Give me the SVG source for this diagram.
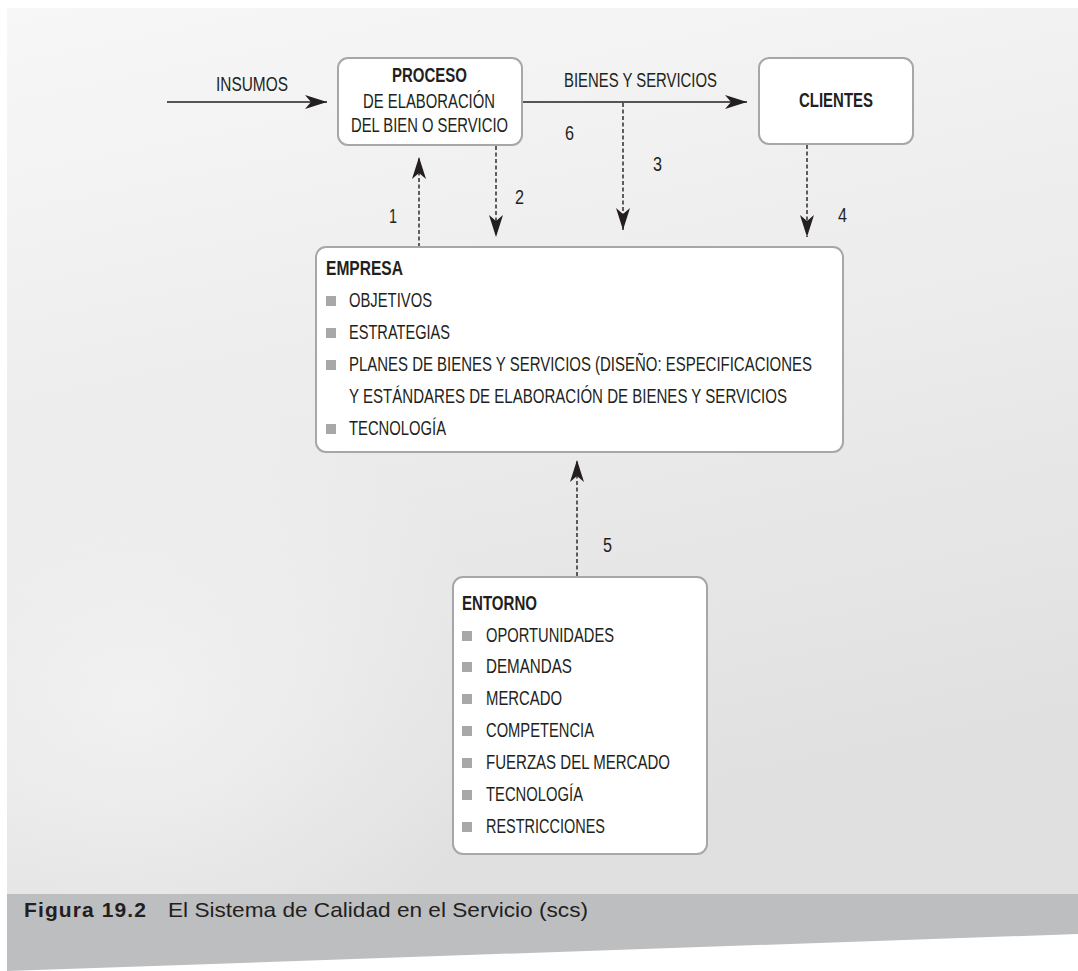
<svg xmlns="http://www.w3.org/2000/svg" width="1078" height="971" viewBox="0 0 1078 971">
<defs>
<linearGradient id="bg" x1="0" y1="0" x2="0.25" y2="1">
<stop offset="0" stop-color="#f7f7f7"/>
<stop offset="0.5" stop-color="#ececec"/>
<stop offset="1" stop-color="#e0e0e0"/>
</linearGradient>
<radialGradient id="glow" cx="0.12" cy="0.78" r="0.35">
<stop offset="0" stop-color="#f4f4f4" stop-opacity="0.8"/>
<stop offset="1" stop-color="#f4f4f4" stop-opacity="0"/>
</radialGradient>
<marker id="ah" markerUnits="userSpaceOnUse" markerWidth="24" markerHeight="14" refX="22" refY="7" orient="auto" viewBox="0 0 24 14">
<path d="M0,0 L22,7 L0,14 L6,7 Z" fill="#231f20"/>
</marker>
</defs>
<style>
.box{fill:#ffffff;stroke:#a6a7a9;stroke-width:2}
.t{font-family:"Liberation Sans",Arial,sans-serif;font-size:20px;fill:#231f20}
.b{font-weight:bold}
.bul{fill:#a7a8aa}
.solid{stroke:#231f20;stroke-width:1.5;fill:none}
.dash{stroke:#231f20;stroke-width:1.4;stroke-dasharray:4 2.5;fill:none}
.cap{font-family:"Liberation Sans",Arial,sans-serif;font-size:21px;fill:#231f20}
</style>
<rect x="0" y="0" width="1078" height="971" fill="#ffffff"/>
<rect x="7" y="8" width="1071" height="886" fill="url(#bg)"/>
<rect x="7" y="8" width="1071" height="886" fill="url(#glow)"/>
<polygon points="7,894 1078,894 1078,934 7,971" fill="#bdbec0"/>
<text class="cap b" x="24" y="917" textLength="122" lengthAdjust="spacing">Figura 19.2</text>
<text class="cap" x="168" y="917" textLength="420" lengthAdjust="spacingAndGlyphs">El Sistema de Calidad en el Servicio (scs)</text>

<g id="connectors">
<line class="solid" x1="167" y1="102" x2="327" y2="102" marker-end="url(#ah)"/>
<line class="solid" x1="522" y1="102" x2="747" y2="102" marker-end="url(#ah)"/>
<line class="dash" x1="419" y1="247" x2="419" y2="157" marker-end="url(#ah)"/>
<line class="dash" x1="496" y1="146" x2="496" y2="237" marker-end="url(#ah)"/>
<line class="dash" x1="623" y1="103" x2="623" y2="230" marker-end="url(#ah)"/>
<line class="dash" x1="807" y1="145" x2="807" y2="237" marker-end="url(#ah)"/>
<line class="dash" x1="577" y1="576" x2="577" y2="460" marker-end="url(#ah)"/>
<text class="t" x="216" y="91" textLength="72" lengthAdjust="spacingAndGlyphs">INSUMOS</text>
<text class="t" x="564" y="87" textLength="153" lengthAdjust="spacingAndGlyphs">BIENES Y SERVICIOS</text>
<text class="t" x="565" y="140" textLength="9" lengthAdjust="spacingAndGlyphs">6</text>
<text class="t" x="653" y="171" textLength="9" lengthAdjust="spacingAndGlyphs">3</text>
<text class="t" x="515" y="204" textLength="9" lengthAdjust="spacingAndGlyphs">2</text>
<text class="t" x="389" y="223" textLength="8" lengthAdjust="spacingAndGlyphs">1</text>
<text class="t" x="838" y="222" textLength="9" lengthAdjust="spacingAndGlyphs">4</text>
<text class="t" x="603" y="552" textLength="9" lengthAdjust="spacingAndGlyphs">5</text>
</g>

<g id="proceso">
<rect class="box" x="338" y="58" width="184" height="87" rx="10"/>
<text class="t b" x="392" y="82" textLength="75" lengthAdjust="spacingAndGlyphs">PROCESO</text>
<text class="t" x="363" y="108" textLength="132" lengthAdjust="spacingAndGlyphs">DE ELABORACIÓN</text>
<text class="t" x="351" y="132" textLength="157" lengthAdjust="spacingAndGlyphs">DEL BIEN O SERVICIO</text>
</g>

<g id="clientes">
<rect class="box" x="759" y="58" width="154" height="86" rx="10"/>
<text class="t b" x="799" y="107" textLength="74" lengthAdjust="spacingAndGlyphs">CLIENTES</text>
</g>

<g id="empresa">
<rect class="box" x="316" y="247" width="527" height="205" rx="10"/>
<text class="t b" x="326" y="275" textLength="77" lengthAdjust="spacingAndGlyphs">EMPRESA</text>
<rect class="bul" x="326" y="296" width="10" height="10"/>
<text class="t" x="349" y="307" textLength="83" lengthAdjust="spacingAndGlyphs">OBJETIVOS</text>
<rect class="bul" x="326" y="328" width="10" height="10"/>
<text class="t" x="349" y="339" textLength="101" lengthAdjust="spacingAndGlyphs">ESTRATEGIAS</text>
<rect class="bul" x="326" y="360" width="10" height="10"/>
<text class="t" x="349" y="371" textLength="463" lengthAdjust="spacingAndGlyphs">PLANES DE BIENES Y SERVICIOS (DISEÑO: ESPECIFICACIONES</text>
<text class="t" x="349" y="403" textLength="438" lengthAdjust="spacingAndGlyphs">Y ESTÁNDARES DE ELABORACIÓN DE BIENES Y SERVICIOS</text>
<rect class="bul" x="326" y="424" width="10" height="10"/>
<text class="t" x="349" y="435" textLength="97" lengthAdjust="spacingAndGlyphs">TECNOLOGÍA</text>
</g>

<g id="entorno">
<rect class="box" x="453" y="577" width="254" height="277" rx="10"/>
<text class="t b" x="462" y="610" textLength="75" lengthAdjust="spacingAndGlyphs">ENTORNO</text>
<rect class="bul" x="462" y="631" width="10" height="10"/>
<text class="t" x="486" y="642" textLength="128" lengthAdjust="spacingAndGlyphs">OPORTUNIDADES</text>
<rect class="bul" x="462" y="662" width="10" height="10"/>
<text class="t" x="486" y="673" textLength="86" lengthAdjust="spacingAndGlyphs">DEMANDAS</text>
<rect class="bul" x="462" y="694" width="10" height="10"/>
<text class="t" x="486" y="705" textLength="76" lengthAdjust="spacingAndGlyphs">MERCADO</text>
<rect class="bul" x="462" y="726" width="10" height="10"/>
<text class="t" x="486" y="737" textLength="108" lengthAdjust="spacingAndGlyphs">COMPETENCIA</text>
<rect class="bul" x="462" y="758" width="10" height="10"/>
<text class="t" x="486" y="769" textLength="184" lengthAdjust="spacingAndGlyphs">FUERZAS DEL MERCADO</text>
<rect class="bul" x="462" y="790" width="10" height="10"/>
<text class="t" x="486" y="801" textLength="97" lengthAdjust="spacingAndGlyphs">TECNOLOGÍA</text>
<rect class="bul" x="462" y="822" width="10" height="10"/>
<text class="t" x="486" y="833" textLength="119" lengthAdjust="spacingAndGlyphs">RESTRICCIONES</text>
</g>
</svg>
